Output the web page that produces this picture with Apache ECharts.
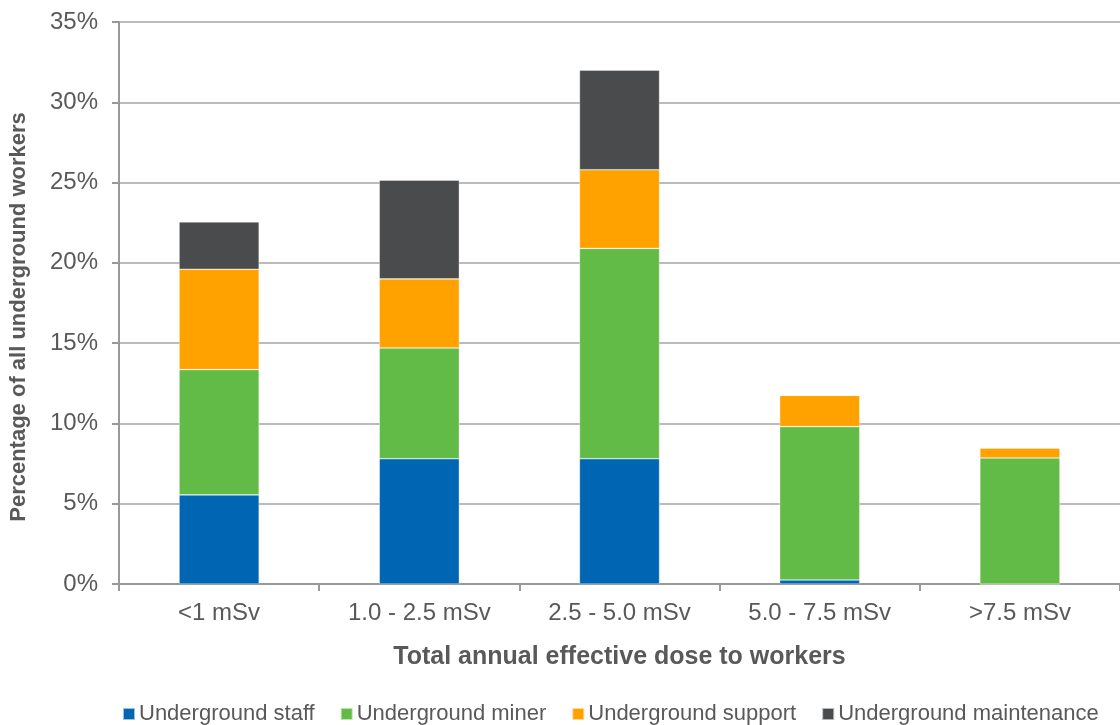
<!DOCTYPE html>
<html>
<head>
<meta charset="utf-8">
<script src="https://cdn.jsdelivr.net/npm/echarts@6/dist/echarts.min.js"></script>
<style>
  html, body { margin: 0; padding: 0; background: #fff; }
  #chart { width: 1120px; height: 725px; }
</style>
</head>
<body>
<div id="chart"></div>
<script>
const categories = ['<1 mSv', '1.0 - 2.5 mSv', '2.5 - 5.0 mSv', '5.0 - 7.5 mSv', '>7.5 mSv'];
const staff = [5.55, 7.8, 7.8, 0.25, 0];
const miner = [7.8, 6.9, 13.1, 9.55, 7.85];
const support = [6.25, 4.3, 4.9, 1.95, 0.62];
const maintenance = [2.95, 6.15, 6.2, 0, 0];
const yTicks = [0, 5, 10, 15, 20, 25, 30, 35];

const fontName = 'Liberation Sans';

let chart = echarts.init(document.getElementById('chart'));

function bar_series(name, data, color) {
    return {
        name: name,
        type: 'bar',
        stack: 'total',
        data: data,
        barWidth: '40%',
        itemStyle: {color: color, borderColor: 'rgba(255,255,255,0.6)', borderWidth: 0.6},
        emphasis: {disabled: true}
    }
}

let option = {
    animation: false,
    textStyle: {fontFamily: fontName},
    grid: {left: 118, right: 0, top: 22, bottom: 141},
    legend: {
        top: 703,
        left: 122,
        padding: 0,
        itemWidth: 12,
        itemHeight: 12,
        itemGap: 25,
        icon: 'rect',
        textStyle: {fontFamily: fontName, fontSize: 22, color: '#595959', padding: [0, 0, 0, -1]},
        data: ['Underground staff', 'Underground miner', 'Underground support', 'Underground maintenance']
    },
    xAxis: {
        type: 'category',
        data: categories,
        name: 'Total annual effective dose to workers',
        nameLocation: 'middle',
        nameGap: 61,
        nameTextStyle: {fontFamily: fontName, fontSize: 25, fontWeight: 'bold', color: '#595959'},
        axisLine: {lineStyle: {color: '#999999', width: 2}},
        axisTick: {show: true, alignWithLabel: false, length: 7, lineStyle: {color: '#999999', width: 2}},
        axisLabel: {fontFamily: fontName, fontSize: 24, color: '#595959', margin: 17}
    },
    yAxis: {
        type: 'value',
        min: yTicks[0],
        max: yTicks[yTicks.length - 1],
        interval: 5,
        name: 'Percentage of all underground workers',
        nameLocation: 'middle',
        nameGap: 89,
        nameTextStyle: {fontFamily: fontName, fontSize: 22, fontWeight: 'bold', color: '#595959', padding: [0, 28, 0, 0]},
        axisLine: {show: true, lineStyle: {color: '#999999', width: 2}},
        axisTick: {show: true, inside: false, length: 7, lineStyle: {color: '#999999', width: 2}},
        axisLabel: {fontFamily: fontName, fontSize: 24, color: '#595959', margin: 21, formatter: '{value}%'},
        splitLine: {lineStyle: {color: '#BBBBBB', width: 2}}
    },
    series: [
        bar_series('Underground staff', staff, '#0066B3'),
        bar_series('Underground miner', miner, '#62BB46'),
        bar_series('Underground support', support, '#FFA200'),
        bar_series('Underground maintenance', maintenance, '#4A4B4D')
    ]
};

chart.setOption(option);
</script>
</body>
</html>
